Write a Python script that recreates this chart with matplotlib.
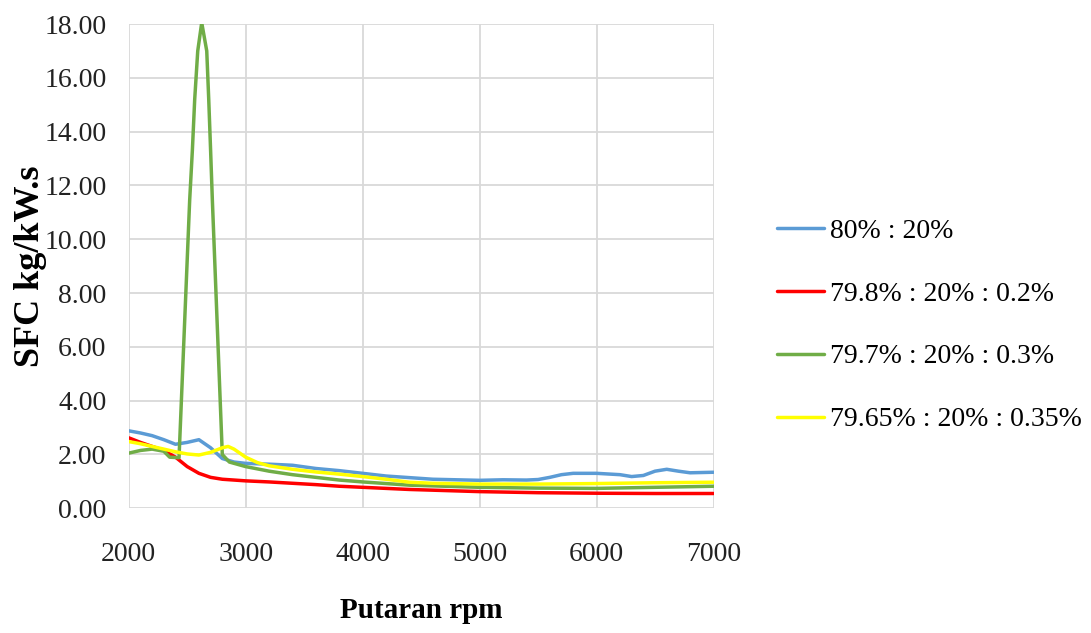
import matplotlib
matplotlib.use("Agg")
import matplotlib.pyplot as plt

labels = ["80% : 20%", "79.8% : 20% : 0.2%", "79.7% : 20% : 0.3%", "79.65% : 20% : 0.35%"]
colors = ["#5B9BD5", "#FF0000", "#70AD47", "#FFFF00"]

blue_x = [2000, 2100, 2200, 2300, 2400, 2500, 2600, 2700, 2800, 2900, 3000, 3200, 3400, 3600,
          3800, 4000, 4200, 4400, 4600, 4800, 5000, 5200, 5400, 5500, 5600, 5700, 5800, 6000,
          6200, 6300, 6400, 6500, 6600, 6700, 6800, 7000]
blue_y = [2.88, 2.80, 2.70, 2.55, 2.38, 2.45, 2.55, 2.25, 1.85, 1.72, 1.67, 1.64, 1.60, 1.48,
          1.40, 1.30, 1.20, 1.14, 1.08, 1.06, 1.04, 1.06, 1.05, 1.07, 1.15, 1.25, 1.30, 1.30,
          1.25, 1.18, 1.22, 1.38, 1.45, 1.38, 1.32, 1.34]

red_x = [2000, 2100, 2200, 2300, 2400, 2500, 2600, 2700, 2800, 3000, 3200, 3400, 3600, 3800,
         4000, 4400, 5000, 5500, 6000, 6500, 7000]
red_y = [2.62, 2.45, 2.30, 2.15, 1.90, 1.55, 1.30, 1.15, 1.08, 1.02, 0.98, 0.93, 0.88, 0.82,
         0.78, 0.70, 0.62, 0.58, 0.56, 0.55, 0.55]

green_x = [2000, 2100, 2200, 2300, 2350, 2430, 2521, 2544, 2564, 2590, 2624, 2667, 2684, 2700,
           2715, 2800, 2860, 3000, 3200, 3400, 3600, 3800, 4000, 4400, 5000, 5500, 6000, 6500, 7000]
green_y = [2.05, 2.15, 2.20, 2.12, 1.90, 1.88, 11.45, 13.3, 15.2, 17.0, 18.05, 17.0, 15.2, 13.3,
           11.45, 2.00, 1.72, 1.55, 1.38, 1.25, 1.15, 1.05, 0.98, 0.86, 0.78, 0.75, 0.74, 0.78, 0.82]

yellow_x = [2000, 2100, 2200, 2300, 2400, 2500, 2600, 2700, 2800, 2850, 2900, 3000, 3100, 3200,
            3400, 3600, 3800, 4000, 4200, 4400, 4600, 5000, 5500, 6000, 6500, 7000]
yellow_y = [2.48, 2.40, 2.30, 2.20, 2.10, 2.02, 1.98, 2.08, 2.25, 2.30, 2.20, 1.90, 1.70, 1.58,
            1.45, 1.35, 1.27, 1.18, 1.08, 0.97, 0.93, 0.90, 0.90, 0.92, 0.95, 0.97]

x_ticks = [2000, 3000, 4000, 5000, 6000, 7000]
y_ticks = [0, 2, 4, 6, 8, 10, 12, 14, 16, 18]

plt.rcParams['font.family'] = ['Liberation Serif', 'DejaVu Serif']

fig = plt.figure(figsize=(10.91, 6.33), dpi=100)
ax = fig.add_axes([0.118, 0.197, 0.536, 0.765])

series = [(blue_x, blue_y), (red_x, red_y), (green_x, green_y), (yellow_x, yellow_y)]
for (xs, ys), c, lab in zip(series, colors, labels):
    ax.plot(xs, ys, color=c, lw=2.5, label=lab, solid_joinstyle='round', solid_capstyle='round')

ax.set_xlim(2000, 7000)
ax.set_ylim(0, 18)
ax.set_xticks(x_ticks)
ax.set_yticks(y_ticks)
ax.set_yticklabels([f"{v:.2f}" for v in y_ticks])
ax.set_xticklabels([str(v) for v in x_ticks])
ax.tick_params(axis='both', length=0, labelsize=20, colors='#222222')
ax.tick_params(axis='y', pad=16)
ax.tick_params(axis='x', pad=24)
ax.grid(True, color='#D9D9D9', lw=1.3)
ax.set_axisbelow(True)
for s in ax.spines.values():
    s.set_visible(False)

ax.set_ylabel("SFC kg/kW.s", fontsize=26, fontweight='bold', labelpad=-2)
ax.set_xlabel("Putaran rpm", fontsize=21, fontweight='bold', labelpad=22)

leg = ax.legend(loc='center left', bbox_to_anchor=(1.066, 0.378), frameon=False, fontsize=20,
                handlelength=1.7, handletextpad=0.2, labelspacing=1.35)

fig.savefig("out.png", dpi=100)
